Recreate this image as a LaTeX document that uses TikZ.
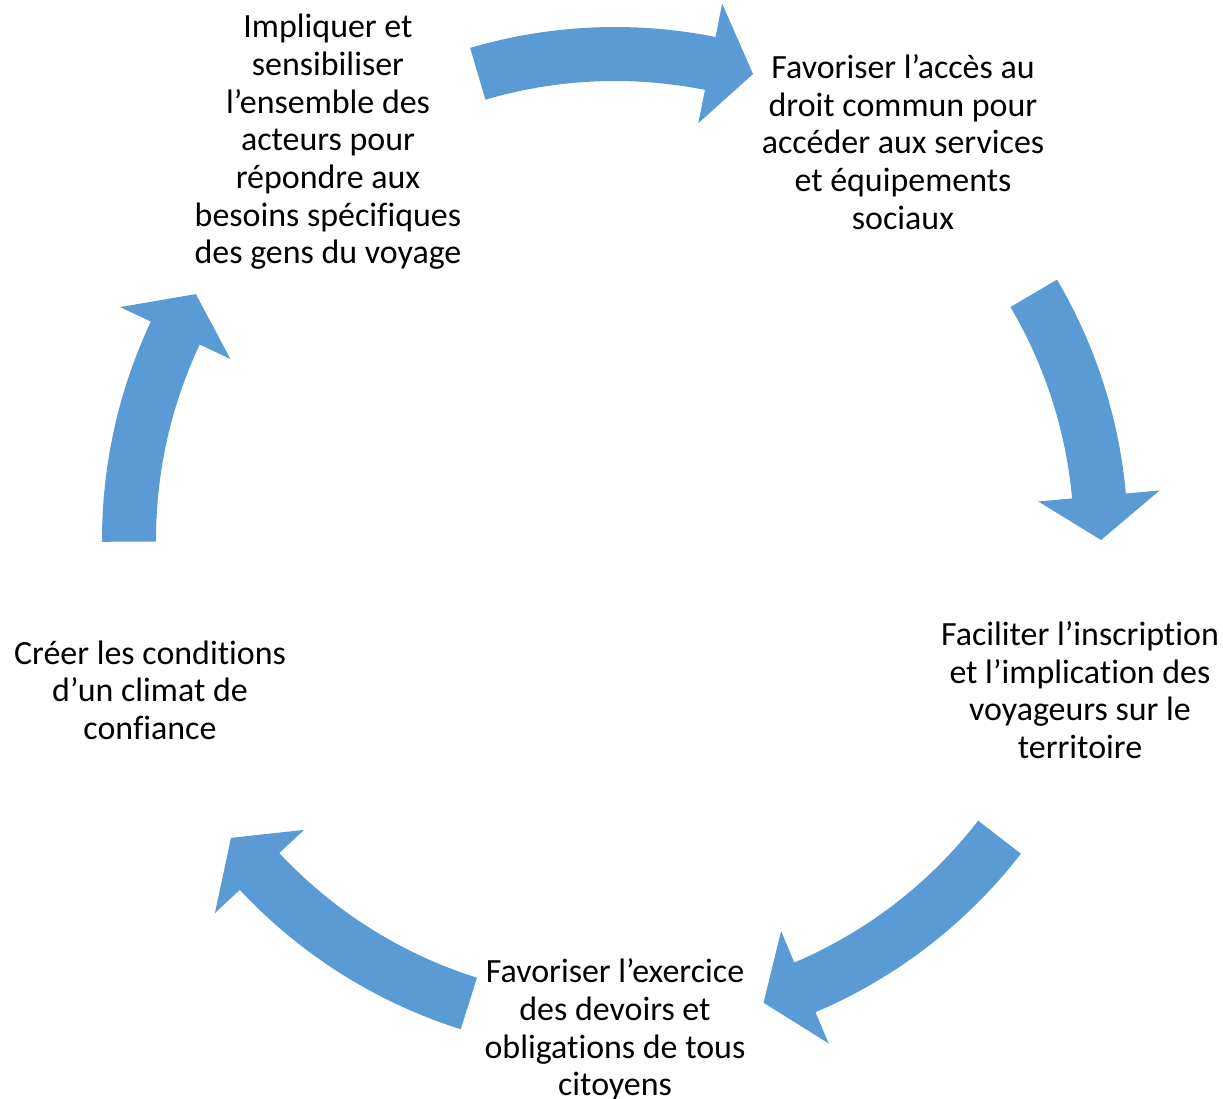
\documentclass[tikz,border=0pt]{standalone}
\usepackage{fontspec}
\setmainfont[Ligatures=CommonOff]{Carlito}
\usetikzlibrary{positioning}

\definecolor{cycleblue}{HTML}{5B9BD5}

\begin{document}
\begin{tikzpicture}
	% Styles
	[
	x=0.01cm, y=0.01cm,
	txt/.style={align=center, inner sep=0pt, font=\fontsize{9.65}{10.7}\selectfont},
	cyc/.style={fill=cycleblue, draw=none},
	]

	\useasboundingbox (0,0) rectangle (1223,1099);

	% Nodes
	\node at (328,957) (implique) [txt] {Impliquer et\\sensibiliser\\l’ensemble des\\acteurs pour\\répondre aux\\besoins spécifiques\\des gens du voyage};
	\node at (903,957) (acces) [txt] {Favoriser l’accès au\\droit commun pour\\accéder aux services\\et équipements\\sociaux};
	\node at (1080,409) (inscription) [txt] {Faciliter l’inscription\\et l’implication des\\voyageurs sur le\\territoire};
	\node at (615,69) (devoirs) [txt] {Favoriser l’exercice\\des devoirs et\\obligations de tous\\citoyens};
	\node at (150,409) (confiance) [txt] {Créer les conditions\\d’un climat de\\confiance};

	% Arrows
	\coordinate (c) at (615,559);
	\foreach \ta/\tb in {106.4/73.5, 30.5/0, -37.7/-72.2, -107.5/-142.2, 180.2/149.6}
	{
		\pgfmathsetmacro{\hb}{\tb+5.2}
		\fill[cyc, shift={(c)}] (\ta:513) arc[start angle=\ta, end angle=\hb, radius=513]
			-- (\hb:547) -- (\tb:486) -- (\hb:425) -- (\hb:459)
			arc[start angle=\hb, end angle=\ta, radius=459] -- cycle;
	}
\end{tikzpicture}
\end{document}
